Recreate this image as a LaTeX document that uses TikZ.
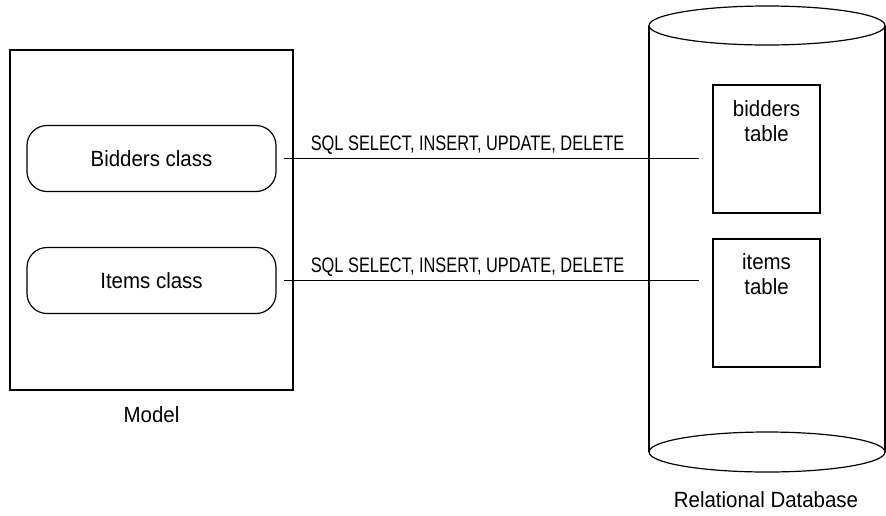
\documentclass[tikz,border=0pt]{standalone}
\usepackage{fontspec}
\setmainfont[FakeStretch=0.93]{Liberation Sans}
\newfontfamily\sqlfont[FakeStretch=0.78]{Liberation Sans}
\begin{document}
\begin{tikzpicture}[x=1pt,y=-1pt,line width=1.2pt,
  every node/.style={font=\fontsize{22}{25}\selectfont},
  classbox/.style={draw,rounded corners=20pt,minimum width=249pt,minimum height=66pt,inner sep=0pt},
  tablebox/.style={draw,minimum width=107pt,minimum height=128pt,inner sep=0pt},
  tabletext/.style={align=center,inner sep=0pt,anchor=north},
  sqllabel/.style={font=\sqlfont\fontsize{21}{25}\selectfont,inner sep=0pt,anchor=base},
  caption/.style={inner sep=0pt,anchor=base},
  link/.style={shorten <=7pt,shorten >=13pt}]
\useasboundingbox (0,0) rectangle (886,515);
% Model
\node[draw,minimum width=283pt,minimum height=340pt,inner sep=0pt] (model) at (151.5,220) {};
\node[classbox] (bidders) at (151.5,158.5) {Bidders class};
\node[classbox] (items) at (151.5,280.5) {Items class};
\node[caption] (modellabel) at (151.5,422) {Model};
% Database cylinder
\draw (767,25.5) ellipse [x radius=118, y radius=19.5];
\draw (767,452) ellipse [x radius=118, y radius=20];
\coordinate (dbtl) at (649,25.5);
\coordinate (dbbl) at (649,452);
\coordinate (dbtr) at (885,25.5);
\coordinate (dbbr) at (885,452);
\draw (dbtl) -- (dbbl);
\draw (dbtr) -- (dbbr);
\node[caption] (dblabel) at (766,507) {Relational Database};
% Tables
\node[tablebox] (btable) at (766.5,149) {};
\node[tablebox] (itable) at (766.5,303) {};
\node[tabletext] (btext) at (766.5,99.5) {bidders\\table};
\node[tabletext] (itext) at (766.5,252.5) {items\\table};
% Connectors
\draw[link] (bidders.east) -- (bidders.east -| btable.west);
\draw[link] (items.east) -- (items.east -| itable.west);
\node[sqllabel] (sql1) at (467.5,150) {SQL SELECT, INSERT, UPDATE, DELETE};
\node[sqllabel] (sql2) at (467.5,272) {SQL SELECT, INSERT, UPDATE, DELETE};
\end{tikzpicture}
\end{document}
